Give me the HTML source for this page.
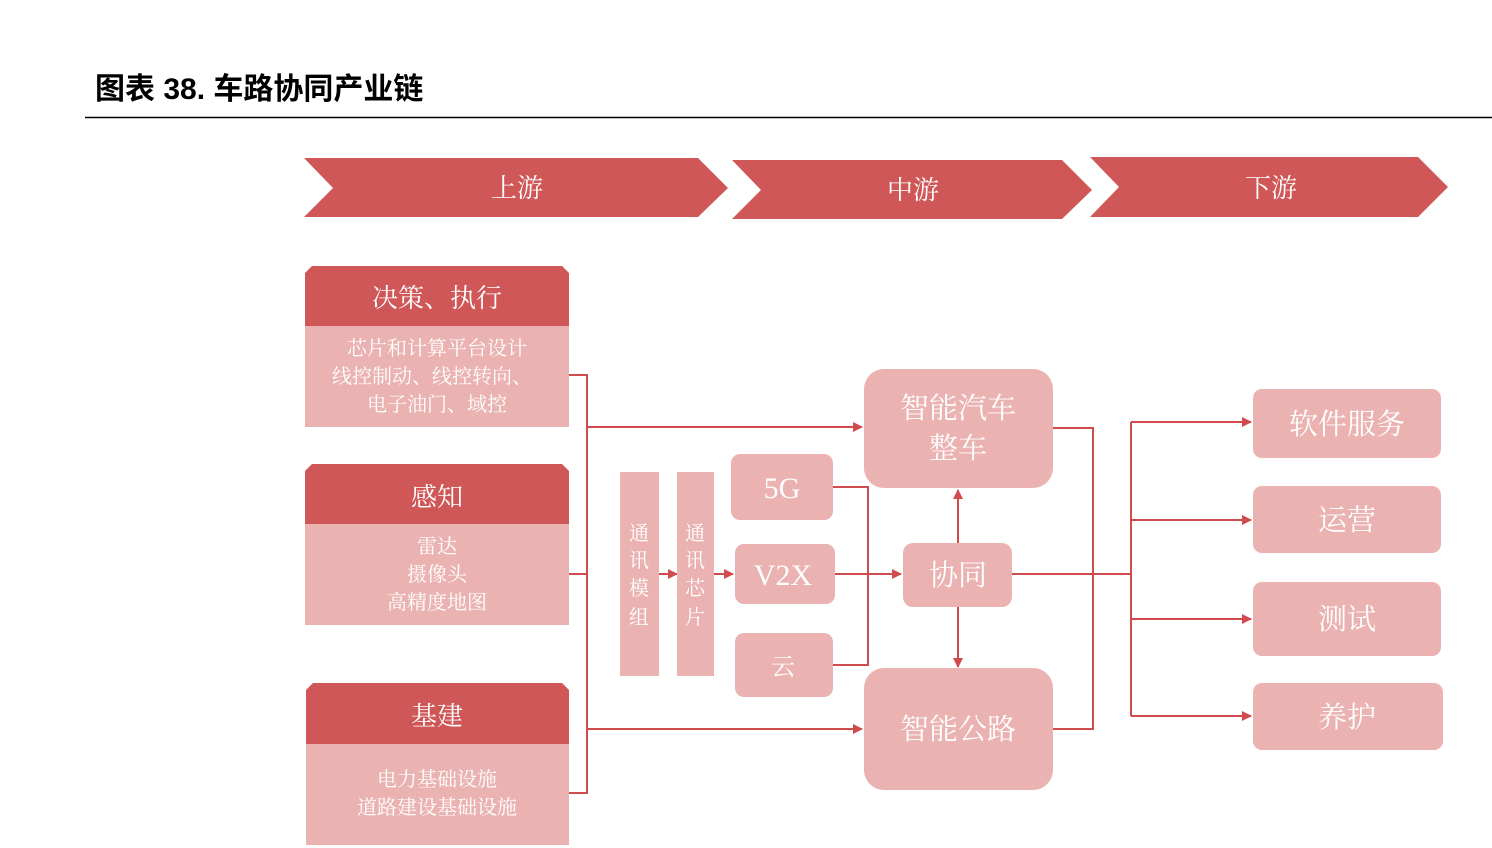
<!DOCTYPE html>
<html><head><meta charset="utf-8"><style>
html,body{margin:0;padding:0;background:#fff;}
svg{display:block;}
text{font-family:"Liberation Serif","Noto Serif CJK SC","Noto Sans CJK SC",serif;fill:#fff;text-anchor:middle;}
</style></head><body>
<svg width="1492" height="848" viewBox="0 0 1492 848" xmlns="http://www.w3.org/2000/svg">
<defs>
<marker id="ah" markerWidth="10" markerHeight="10" refX="9" refY="5" orient="auto" markerUnits="userSpaceOnUse">
<path d="M0,0 L10,5 L0,10 z" fill="#D04B4E"/>
</marker>
</defs>
<text x="95" y="99" style="font-family:'Liberation Sans','Noto Sans CJK SC',sans-serif;font-weight:bold;font-size:30px;fill:#000;text-anchor:start">图表 38. 车路协同产业链</text>
<line x1="85" y1="117.5" x2="1492" y2="117.5" stroke="#000" stroke-width="1.5"/>

<!-- chevrons -->
<polygon points="304,158 698,158 728,188 698,217 304,217 333,188" fill="#D05757"/>
<polygon points="732,160 1062,160 1092,190 1062,219 732,219 761,190" fill="#D05757"/>
<polygon points="1090,157 1418,157 1448,187 1418,217 1090,217 1119,187" fill="#D05757"/>
<text x="517" y="197" font-size="26">上游</text>
<text x="913" y="199" font-size="26">中游</text>
<text x="1271" y="197" font-size="26">下游</text>

<!-- left boxes -->
<g>
<polygon points="312,266 562,266 569,273 569,326 305,326 305,273" fill="#D05757"/>
<rect x="305" y="326" width="264" height="101" fill="#EAB3B1"/>
<text x="437" y="307" font-size="26">决策、执行</text>
<text x="437" y="355" font-size="20">芯片和计算平台设计</text>
<text x="432" y="383" font-size="20">线控制动、线控转向、</text>
<text x="437" y="411" font-size="20">电子油门、域控</text>

<polygon points="312,464 562,464 569,471 569,524 305,524 305,471" fill="#D05757"/>
<rect x="305" y="524" width="264" height="101" fill="#EAB3B1"/>
<text x="437" y="506" font-size="26">感知</text>
<text x="437" y="553" font-size="20">雷达</text>
<text x="437" y="581" font-size="20">摄像头</text>
<text x="437" y="609" font-size="20">高精度地图</text>

<polygon points="313,683 562,683 569,690 569,744 306,744 306,690" fill="#D05757"/>
<rect x="306" y="744" width="263" height="101" fill="#EAB3B1"/>
<text x="437" y="725" font-size="26">基建</text>
<text x="437" y="786" font-size="20">电力基础设施</text>
<text x="437" y="814" font-size="20">道路建设基础设施</text>
</g>

<!-- left connectors -->
<g stroke="#D04B4E" stroke-width="2" fill="none">
<polyline points="569,375 587,375 587,793 569,793"/>
<line x1="569" y1="574" x2="587" y2="574"/>
<line x1="587" y1="427" x2="862" y2="427" marker-end="url(#ah)"/>
<line x1="587" y1="729" x2="862" y2="729" marker-end="url(#ah)"/>
<line x1="659" y1="574" x2="677" y2="574" marker-end="url(#ah)"/>
<line x1="714" y1="574" x2="733" y2="574" marker-end="url(#ah)"/>
<polyline points="833,487 868,487 868,665 833,665"/>
<line x1="835" y1="574" x2="901" y2="574" marker-end="url(#ah)"/>
<line x1="958" y1="543" x2="958" y2="490" marker-end="url(#ah)"/>
<line x1="958" y1="607" x2="958" y2="667" marker-end="url(#ah)"/>
<polyline points="1053,428 1093,428 1093,729 1053,729"/>
<line x1="1012" y1="574" x2="1131" y2="574"/>
<line x1="1131" y1="422" x2="1131" y2="716"/>
<line x1="1131" y1="422" x2="1251" y2="422" marker-end="url(#ah)"/>
<line x1="1131" y1="520" x2="1251" y2="520" marker-end="url(#ah)"/>
<line x1="1131" y1="619" x2="1251" y2="619" marker-end="url(#ah)"/>
<line x1="1131" y1="716" x2="1251" y2="716" marker-end="url(#ah)"/>
</g>

<!-- comm columns -->
<rect x="620" y="472" width="39" height="204" fill="#EAB3B1"/>
<rect x="677" y="472" width="37" height="204" fill="#EAB3B1"/>
<g font-size="20">
<text x="639" y="540">通</text><text x="639" y="567">讯</text><text x="639" y="595">模</text><text x="639" y="624">组</text>
<text x="695" y="540">通</text><text x="695" y="567">讯</text><text x="695" y="595">芯</text><text x="695" y="624">片</text>
</g>

<!-- middle boxes -->
<rect x="731" y="454" width="102" height="66" rx="9" fill="#EAB3B1"/>
<rect x="735" y="544" width="100" height="60" rx="9" fill="#EAB3B1"/>
<rect x="735" y="633" width="98" height="64" rx="9" fill="#EAB3B1"/>
<text x="782" y="498" font-size="30">5G</text>
<text x="783" y="585" font-size="30">V2X</text>
<text x="783" y="675" font-size="24">云</text>

<rect x="864" y="369" width="189" height="119" rx="20" fill="#EAB3B1"/>
<rect x="903" y="543" width="109" height="64" rx="10" fill="#EAB3B1"/>
<rect x="864" y="668" width="189" height="122" rx="20" fill="#EAB3B1"/>
<text x="958" y="418" font-size="29">智能汽车</text>
<text x="958" y="458" font-size="29">整车</text>
<text x="958" y="585" font-size="29">协同</text>
<text x="958" y="739" font-size="29">智能公路</text>

<!-- right boxes -->
<rect x="1253" y="389" width="188" height="69" rx="9" fill="#EAB3B1"/>
<rect x="1253" y="486" width="188" height="67" rx="9" fill="#EAB3B1"/>
<rect x="1253" y="582" width="188" height="74" rx="9" fill="#EAB3B1"/>
<rect x="1253" y="683" width="190" height="67" rx="9" fill="#EAB3B1"/>
<text x="1347" y="434" font-size="29">软件服务</text>
<text x="1347" y="530" font-size="29">运营</text>
<text x="1347" y="629" font-size="29">测试</text>
<text x="1347" y="727" font-size="29">养护</text>
</svg>
</body></html>
